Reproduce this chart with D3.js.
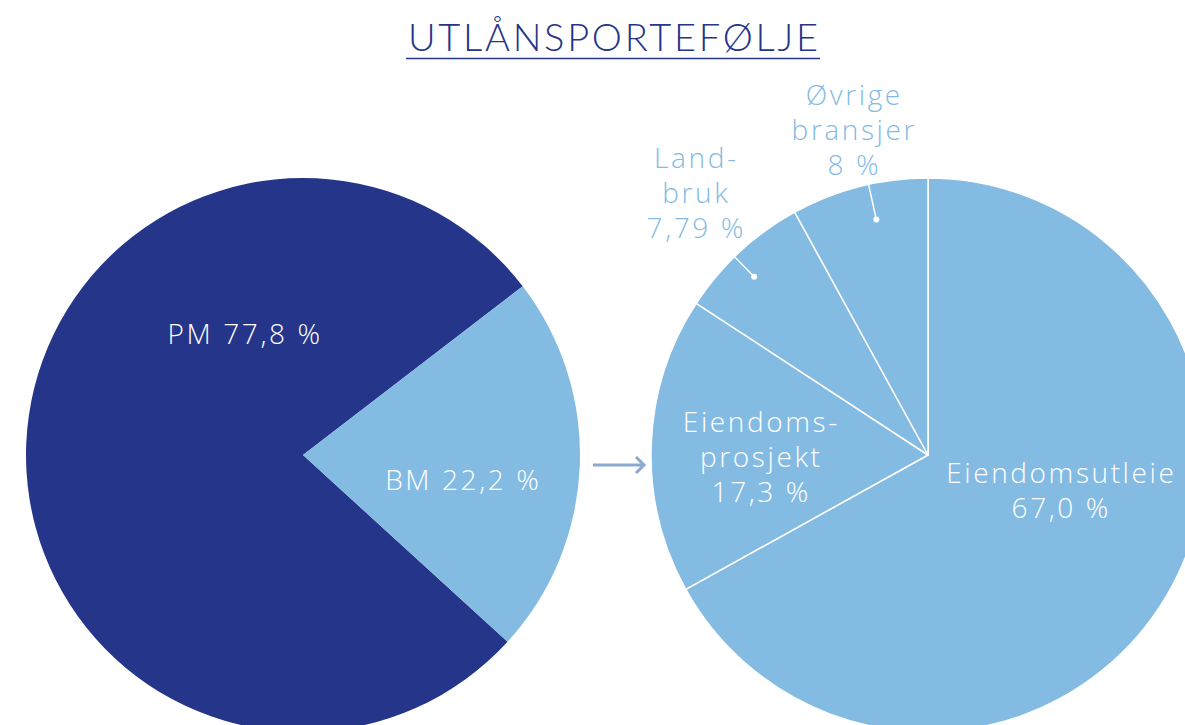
<!DOCTYPE html>
<html>
<head>
<meta charset="utf-8">
<script src="https://cdn.jsdelivr.net/npm/d3@7"></script>
<style>
  html, body { margin: 0; padding: 0; background: #fff; }
  svg { display: block; }
</style>
</head>
<body>
<div id="chart"></div>
<script>
// data
const title = "UTLÅNSPORTEFØLJE";
const mainCategories = ["PM", "BM"];
const mainValues = [77.8, 22.2];
const mainLabels = ["PM 77,8 %", "BM 22,2 %"];
const subCategories = ["Eiendomsutleie", "Eiendomsprosjekt", "Landbruk", "Øvrige bransjer"];
const subValues = [67.0, 17.3, 7.79, 8];
const subLabels = [
  ["Eiendomsutleie", "67,0 %"],
  ["Eiendoms-", "prosjekt", "17,3 %"],
  ["Land-", "bruk", "7,79 %"],
  ["Øvrige", "bransjer", "8 %"]
];

// layout
const W = 1185, H = 725;
const R = 277;
const dark = "#24358a", light = "#84bbe3", arrowCol = "#8ca9cf";
const font = "'Open Sans', 'Noto Sans', sans-serif";
const deg = Math.PI / 180;
const spacing = 2.6;

const svg = d3.select("#chart").append("svg")
  .attr("width", W).attr("height", H)
  .attr("viewBox", [0, 0, W, H])
  .attr("font-family", font);

// title
svg.append("text")
  .attr("x", 613).attr("y", 51)
  .attr("text-anchor", "middle")
  .attr("font-family", "Lato, sans-serif")
  .attr("font-size", 38)
  .attr("font-weight", 300)
  .attr("fill", dark)
  .attr("textLength", 410)
  .attr("lengthAdjust", "spacing")
  .text(title);
svg.append("line")
  .attr("x1", 406).attr("x2", 820)
  .attr("y1", 58.5).attr("y2", 58.5)
  .attr("stroke", dark).attr("stroke-width", 1.3);

const arc = d3.arc().innerRadius(0).outerRadius(R);

// left pie
const mainPie = d3.pie().sort(null).value(d => d)
  .startAngle(132.4 * deg).endAngle(132.4 * deg + 2 * Math.PI);
const mainColor = d3.scaleOrdinal().domain(mainCategories).range([dark, light]);
const left = svg.append("g").attr("transform", "translate(303,455)");
const mainArcs = mainPie(mainValues);
left.selectAll("path").data(mainArcs).join("path")
  .attr("d", arc)
  .attr("fill", (d, i) => mainColor(mainCategories[i]));

// label anchors (angle deg, radius) relative to pie centre
const mainLabelPos = [[334, 135], [99, 161]];
left.selectAll("text").data(mainLabels).join("text")
  .attr("x", (d, i) => Math.sin(mainLabelPos[i][0] * deg) * mainLabelPos[i][1] + spacing / 2)
  .attr("y", (d, i) => -Math.cos(mainLabelPos[i][0] * deg) * mainLabelPos[i][1])
  .attr("dy", "0.36em")
  .attr("text-anchor", "middle")
  .attr("font-size", 28)
  .attr("font-weight", 300)
  .attr("letter-spacing", spacing)
  .attr("fill", "#fff")
  .text(d => d);

// arrow
const arrow = svg.append("g").attr("stroke", arrowCol).attr("stroke-width", 3)
  .attr("fill", "none");
arrow.append("line").attr("x1", 593).attr("x2", 643).attr("y1", 465).attr("y2", 465);
arrow.append("path").attr("d", "M636,457 L644,465 L636,473");

// right pie
const subPie = d3.pie().sort(null).value(d => d);
const right = svg.append("g").attr("transform", "translate(928,455)");
const subArcs = subPie(subValues);
right.selectAll("path").data(subArcs).join("path")
  .attr("d", arc)
  .attr("fill", light)
  .attr("stroke", "#fff")
  .attr("stroke-width", 1.5)
  .attr("stroke-linejoin", "round");

// leader lines for small slices
const leaders = subArcs.slice(2);
const mid = d => (d.startAngle + d.endAngle) / 2;
const leaderG = right.append("g");
leaders.forEach((d, i) => {
  const a = mid(d) + (i === 0 ? -1.5 * deg : 2 * deg);
  const r0 = i === 0 ? 249 : 241;
  const x0 = Math.sin(a) * r0, y0 = -Math.cos(a) * r0;
  const x1 = Math.sin(a) * R, y1 = -Math.cos(a) * R;
  leaderG.append("line").attr("x1", x0).attr("y1", y0).attr("x2", x1).attr("y2", y1)
    .attr("stroke", "#fff").attr("stroke-width", 1.5);
  leaderG.append("circle").attr("cx", x0).attr("cy", y0).attr("r", 3).attr("fill", "#fff");
});

// label anchors for sub pie: centre x, first baseline (offsets from centre)
const subLabelPos = [[132, 28], [-168, -23], [-233, -287], [-75, -350]];
const subLabelCol = ["#fff", "#fff", light, light];
subLabels.forEach((lines, i) => {
  const txt = right.append("text")
    .attr("text-anchor", "middle")
    .attr("font-size", 28)
    .attr("font-weight", 300)
    .attr("letter-spacing", spacing)
    .attr("fill", subLabelCol[i]);
  lines.forEach((s, j) => {
    txt.append("tspan")
      .attr("x", subLabelPos[i][0] + spacing / 2)
      .attr("y", subLabelPos[i][1] + j * 35)
      .text(s);
  });
});
</script>
</body>
</html>
